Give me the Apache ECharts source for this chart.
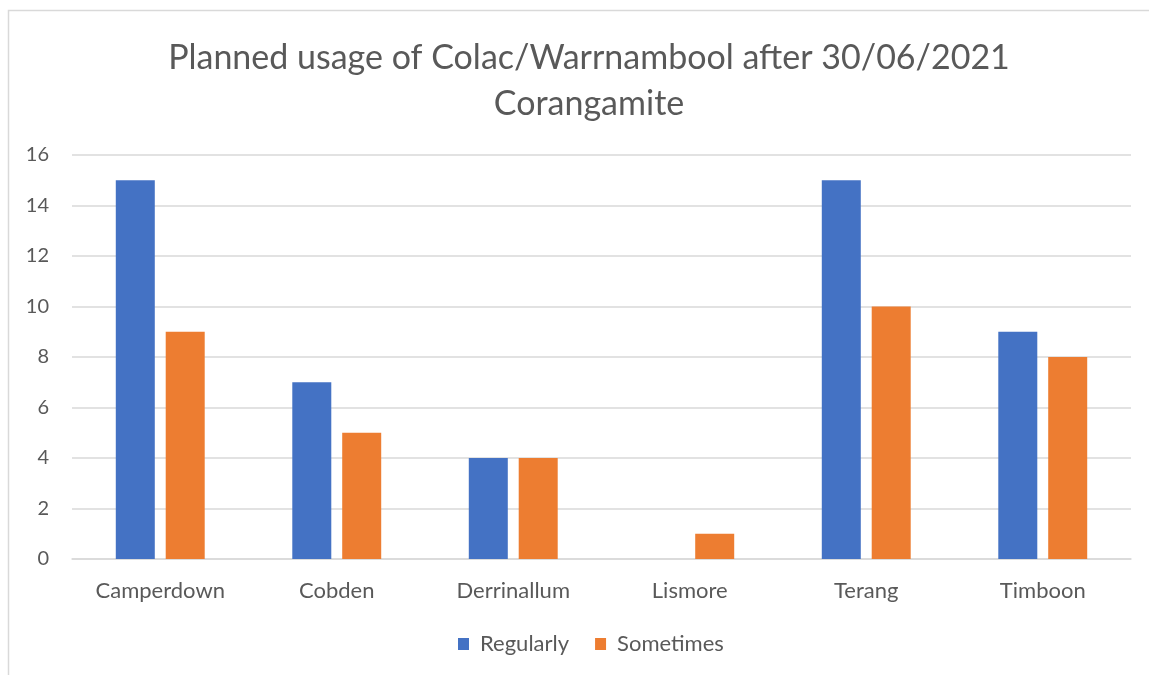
<!DOCTYPE html>
<html>
<head>
<meta charset="utf-8">
<script src="https://cdn.jsdelivr.net/npm/echarts@6/dist/echarts.min.js"></script>
<style>
  html, body { margin: 0; padding: 0; background: #fff; }
  #chart { width: 1149px; height: 675px; }
</style>
</head>
<body>
<div id="chart"></div>
<script>
  const towns = ['Camperdown', 'Cobden', 'Derrinallum', 'Lismore', 'Terang', 'Timboon'];
  const regularly = [15, 7, 4, 0, 15, 9];
  const sometimes = [9, 5, 4, 1, 10, 8];
  const titleLines = ['Planned usage of Colac/Warrnambool after 30/06/2021', 'Corangamite'];

  const font = 'Lato, "Open Sans", sans-serif';
  const textGrey = '#595959';
  const gridGrey = '#d9d9d9';

  const chart = echarts.init(document.getElementById('chart'));

  chart.setOption({
    backgroundColor: '#fff',
    animation: false,
    textStyle: { fontFamily: font },
    graphic: [
      {
        type: 'rect',
        shape: { x: 8.5, y: 10.5, width: 1200, height: 700 },
        style: { fill: 'none', stroke: gridGrey, lineWidth: 1.5 },
        silent: true
      }
    ],
    title: {
      text: titleLines.join('\n'),
      left: 584,
      top: 30,
      textAlign: 'center',
      textStyle: {
        fontFamily: font,
        fontSize: 34,
        fontWeight: 'normal',
        color: textGrey,
        lineHeight: 46
      }
    },
    legend: {
      data: ['Regularly', 'Sometimes'],
      left: 453,
      top: 628,
      itemWidth: 11,
      itemHeight: 12,
      itemGap: 26,
      icon: 'rect',
      textStyle: { fontFamily: font, fontSize: 22, color: textGrey, padding: [0, 0, 0, 6] }
    },
    grid: { left: 72, right: 18, top: 155, bottom: 116, containLabel: false },
    xAxis: {
      type: 'category',
      data: towns,
      axisLine: { show: true, lineStyle: { color: gridGrey, width: 1.5 } },
      axisTick: { show: false },
      axisLabel: { color: textGrey, fontSize: 22, margin: 21, fontFamily: font }
    },
    yAxis: {
      type: 'value',
      min: 0,
      max: 16,
      interval: 2,
      axisLine: { show: false },
      axisTick: { show: false },
      axisLabel: { color: textGrey, fontSize: 20, margin: 23, fontFamily: font },
      splitLine: { lineStyle: { color: gridGrey, width: 1.5 } }
    },
    series: [
      {
        name: 'Regularly',
        type: 'bar',
        data: regularly,
        barWidth: 39,
        barGap: '28%',
        itemStyle: { color: '#4472c4' }
      },
      {
        name: 'Sometimes',
        type: 'bar',
        data: sometimes,
        barWidth: 39,
        itemStyle: { color: '#ed7d31' }
      }
    ]
  });
</script>
</body>
</html>
